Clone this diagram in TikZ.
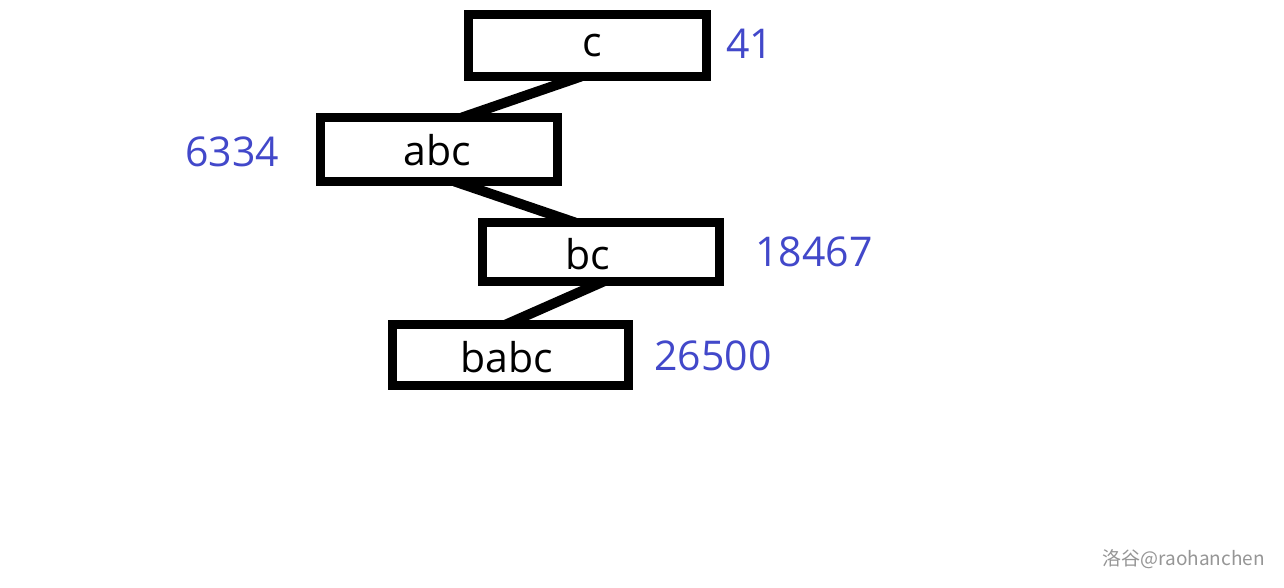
\documentclass[tikz,border=0pt]{standalone}
\usepackage{fontspec}
\setmainfont{Open Sans}
\newfontfamily\cjkwm{Noto Sans CJK SC}
\pgfdeclarelayer{bg}
\pgfsetlayers{bg,main}
\definecolor{numblue}{RGB}{66,72,202}
\definecolor{wmgray}{RGB}{150,150,150}
\tikzset{
  strbox/.style={draw=black, line width=9pt, fill=white, rectangle, inner sep=0pt, outer sep=0pt},
  edgeline/.style={draw=black, line width=10pt},
  boxtext/.style={inner sep=0pt, anchor=base, font=\fontsize{41}{46}\selectfont, text=black},
  numtext/.style={inner sep=0pt, anchor=base west, font=\fontsize{41}{46}\selectfont, text=numblue},
}
\begin{document}
\begin{tikzpicture}[x=1pt,y=-1pt]
\useasboundingbox (0,0) rectangle (1284,588);

\node[strbox, minimum width=238pt, minimum height=62pt] (c) at (587.5,45.5) {};
\node[strbox, minimum width=237pt, minimum height=64pt] (abc) at (439,149.5) {};
\node[strbox, minimum width=237pt, minimum height=59pt] (bc) at (601,252) {};
\node[strbox, minimum width=236pt, minimum height=61pt] (babc) at (510.5,355) {};

\begin{pgfonlayer}{bg}
\path[fill=white] (0,0) rectangle (1284,588);
\draw[edgeline] ([xshift=-6.5pt]c.south) -- ([xshift=23pt]abc.north);
\draw[edgeline] ([xshift=15.7pt]abc.south) -- ([xshift=-26pt]bc.north);
\draw[edgeline] ([xshift=2.5pt]bc.south) -- ([xshift=-4.5pt]babc.north);
\end{pgfonlayer}

\node[boxtext] (tc) at (592.5,56.5) {c};
\node[boxtext] (tabc) at (437,166) {abc};
\node[boxtext] (tbc) at (588,269) {bc};
\node[boxtext] (tbabc) at (507,372.5) {babc};

\node[numtext] (n41) at (726,59) {41};
\node[numtext] (n6334) at (185,166.5) {6334};
\node[numtext] (n18467) at (755,266) {18467};
\node[numtext] (n26500) at (654,370) {26500};

\node[inner sep=0pt, anchor=base east, font=\cjkwm\fontsize{19}{22}\selectfont, text=wmgray] (wm) at (1265,565) {洛谷@raohanchen};
\end{tikzpicture}
\end{document}
